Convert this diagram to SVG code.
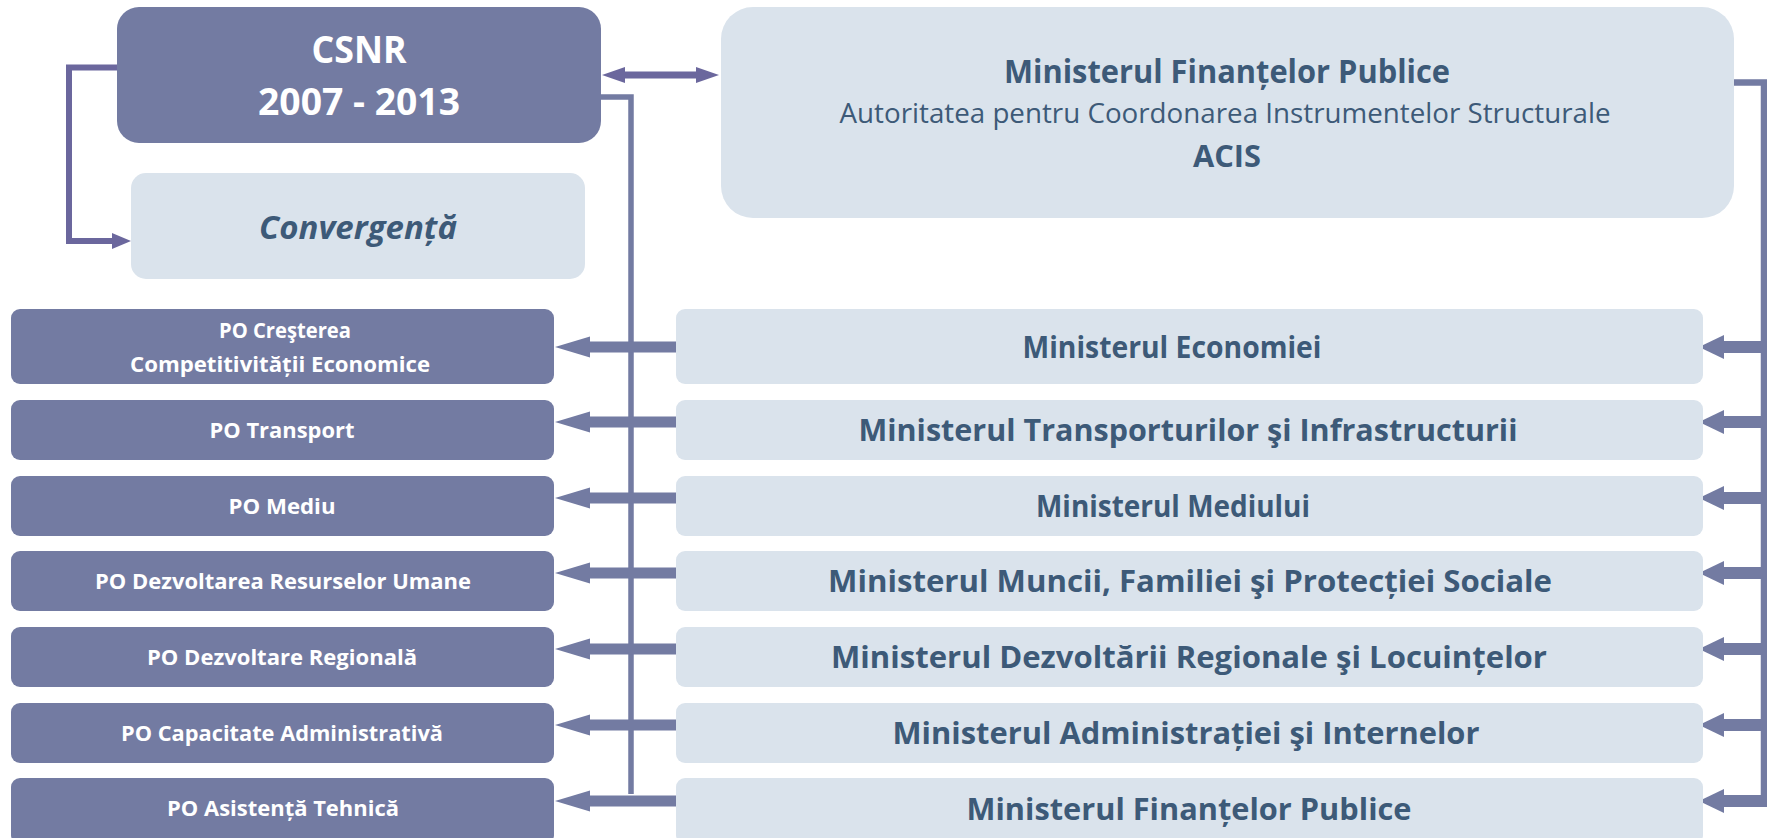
<svg xmlns="http://www.w3.org/2000/svg" width="1767" height="838" viewBox="0 0 1767 838">
<style>
.dark{fill:#737ba2}
.light{fill:#dae3ec}
.tw{font-family:"Open Sans","Liberation Sans",sans-serif;font-weight:bold;fill:#ffffff;text-anchor:middle}
.td{font-family:"Open Sans","Liberation Sans",sans-serif;font-weight:bold;fill:#3d5a78;text-anchor:middle}
.tr{font-family:"Open Sans","Liberation Sans",sans-serif;font-weight:normal;fill:#3d5a78;text-anchor:middle}
.po{font-size:22px}
.min{font-size:31px}
.ln{fill:none;stroke:#737ba2}
.lp{fill:none;stroke:#6b679d}
</style>
<defs>
<marker id="hL" markerUnits="userSpaceOnUse" markerWidth="36" markerHeight="22" refX="1" refY="10.5" orient="auto" overflow="visible"><path d="M0,0 L35,10.5 L0,21 Z" fill="#737ba2"/></marker>
<marker id="hR" markerUnits="userSpaceOnUse" markerWidth="26" markerHeight="24" refX="1" refY="12" orient="auto" overflow="visible"><path d="M0,0 L25,12 L0,24 Z" fill="#737ba2"/></marker>
<marker id="hP" markerUnits="userSpaceOnUse" markerWidth="24" markerHeight="17" refX="1" refY="8" orient="auto" overflow="visible"><path d="M0,0 L23,8 L0,16 Z" fill="#6b679d"/></marker>
<marker id="hC" markerUnits="userSpaceOnUse" markerWidth="20" markerHeight="17" refX="1" refY="8" orient="auto" overflow="visible"><path d="M0,0 L19,8 L0,16 Z" fill="#6b679d"/></marker>
</defs>

<g id="connectors">
<path class="lp" stroke-width="6" d="M117,67.5 H69 V241 H113" marker-end="url(#hC)"/>
<line class="lp" stroke-width="7" x1="660" y1="75" x2="624" y2="75" marker-end="url(#hP)"/>
<line class="lp" stroke-width="7" x1="660" y1="75" x2="697" y2="75" marker-end="url(#hP)"/>
<path class="ln" stroke-width="5.5" d="M600,97 H631 V794"/>
<path class="ln" stroke-width="6.5" d="M1734,82.5 H1764 V807"/>
<g stroke-width="11">
<line class="ln" x1="676" y1="347" x2="589" y2="347" marker-end="url(#hL)"/>
<line class="ln" x1="676" y1="422" x2="589" y2="422" marker-end="url(#hL)"/>
<line class="ln" x1="676" y1="498" x2="589" y2="498" marker-end="url(#hL)"/>
<line class="ln" x1="676" y1="573" x2="589" y2="573" marker-end="url(#hL)"/>
<line class="ln" x1="676" y1="649" x2="589" y2="649" marker-end="url(#hL)"/>
<line class="ln" x1="676" y1="725" x2="589" y2="725" marker-end="url(#hL)"/>
<line class="ln" x1="676" y1="801" x2="589" y2="801" marker-end="url(#hL)"/>
</g>
<g stroke-width="12">
<line class="ln" x1="1767" y1="347" x2="1723" y2="347" marker-end="url(#hR)"/>
<line class="ln" x1="1767" y1="422" x2="1723" y2="422" marker-end="url(#hR)"/>
<line class="ln" x1="1767" y1="498" x2="1723" y2="498" marker-end="url(#hR)"/>
<line class="ln" x1="1767" y1="573" x2="1723" y2="573" marker-end="url(#hR)"/>
<line class="ln" x1="1767" y1="649" x2="1723" y2="649" marker-end="url(#hR)"/>
<line class="ln" x1="1767" y1="725" x2="1723" y2="725" marker-end="url(#hR)"/>
<line class="ln" x1="1767" y1="801" x2="1723" y2="801" marker-end="url(#hR)"/>
</g>
</g>

<g id="csnr">
<rect class="dark" x="117" y="7" width="484" height="136" rx="22"/>
<text class="tw" x="359" y="63" font-size="37" textLength="95" lengthAdjust="spacingAndGlyphs">CSNR</text>
<text class="tw" x="359" y="115" font-size="37" textLength="202" lengthAdjust="spacingAndGlyphs">2007 - 2013</text>
</g>

<g id="convergenta">
<rect class="light" x="131" y="173" width="454" height="106" rx="15"/>
<text class="td" x="358" y="239" font-size="33" font-style="italic" textLength="198" lengthAdjust="spacingAndGlyphs">Convergență</text>
</g>

<g id="acis">
<rect class="light" x="721" y="7" width="1013" height="211" rx="32"/>
<text class="td" x="1227" y="83" font-size="32" textLength="446" lengthAdjust="spacingAndGlyphs">Ministerul Finanțelor Publice</text>
<text class="tr" x="1225" y="123" font-size="27" textLength="771" lengthAdjust="spacingAndGlyphs">Autoritatea pentru Coordonarea Instrumentelor Structurale</text>
<text class="td" x="1227" y="167" font-size="31" textLength="68" lengthAdjust="spacingAndGlyphs">ACIS</text>
</g>

<g id="po1">
<rect class="dark" x="11" y="309" width="543" height="75" rx="9"/>
<text class="tw po" x="285" y="338" textLength="132" lengthAdjust="spacingAndGlyphs">PO Creşterea</text>
<text class="tw po" x="280" y="372" textLength="300" lengthAdjust="spacingAndGlyphs">Competitivității Economice</text>
</g>
<g id="po2">
<rect class="dark" x="11" y="400" width="543" height="60" rx="9"/>
<text class="tw po" x="282" y="438" textLength="145" lengthAdjust="spacingAndGlyphs">PO Transport</text>
</g>
<g id="po3">
<rect class="dark" x="11" y="476" width="543" height="60" rx="9"/>
<text class="tw po" x="282" y="514" textLength="107" lengthAdjust="spacingAndGlyphs">PO Mediu</text>
</g>
<g id="po4">
<rect class="dark" x="11" y="551" width="543" height="60" rx="9"/>
<text class="tw po" x="283" y="589" textLength="376" lengthAdjust="spacingAndGlyphs">PO Dezvoltarea Resurselor Umane</text>
</g>
<g id="po5">
<rect class="dark" x="11" y="627" width="543" height="60" rx="9"/>
<text class="tw po" x="282" y="665" textLength="270" lengthAdjust="spacingAndGlyphs">PO Dezvoltare Regională</text>
</g>
<g id="po6">
<rect class="dark" x="11" y="703" width="543" height="60" rx="9"/>
<text class="tw po" x="282" y="741" textLength="322" lengthAdjust="spacingAndGlyphs">PO Capacitate Administrativă</text>
</g>
<g id="po7">
<rect class="dark" x="11" y="778" width="543" height="66" rx="9"/>
<text class="tw po" x="283" y="816" textLength="232" lengthAdjust="spacingAndGlyphs">PO Asistență Tehnică</text>
</g>

<g id="m1">
<rect class="light" x="676" y="309" width="1027" height="75" rx="9"/>
<text class="td min" x="1172" y="358" textLength="299" lengthAdjust="spacingAndGlyphs">Ministerul Economiei</text>
</g>
<g id="m2">
<rect class="light" x="676" y="400" width="1027" height="60" rx="9"/>
<text class="td min" x="1188" y="441" textLength="659" lengthAdjust="spacingAndGlyphs">Ministerul Transporturilor şi Infrastructurii</text>
</g>
<g id="m3">
<rect class="light" x="676" y="476" width="1027" height="60" rx="9"/>
<text class="td min" x="1173" y="517" textLength="274" lengthAdjust="spacingAndGlyphs">Ministerul Mediului</text>
</g>
<g id="m4">
<rect class="light" x="676" y="551" width="1027" height="60" rx="9"/>
<text class="td min" x="1190" y="592" textLength="724" lengthAdjust="spacingAndGlyphs">Ministerul Muncii, Familiei şi Protecției Sociale</text>
</g>
<g id="m5">
<rect class="light" x="676" y="627" width="1027" height="60" rx="9"/>
<text class="td min" x="1189" y="668" textLength="716" lengthAdjust="spacingAndGlyphs">Ministerul Dezvoltării Regionale şi Locuințelor</text>
</g>
<g id="m6">
<rect class="light" x="676" y="703" width="1027" height="60" rx="9"/>
<text class="td min" x="1186" y="744" textLength="587" lengthAdjust="spacingAndGlyphs">Ministerul Administrației şi Internelor</text>
</g>
<g id="m7">
<rect class="light" x="676" y="778" width="1027" height="66" rx="9"/>
<text class="td min" x="1189" y="820" textLength="445" lengthAdjust="spacingAndGlyphs">Ministerul Finanțelor Publice</text>
</g>
</svg>
